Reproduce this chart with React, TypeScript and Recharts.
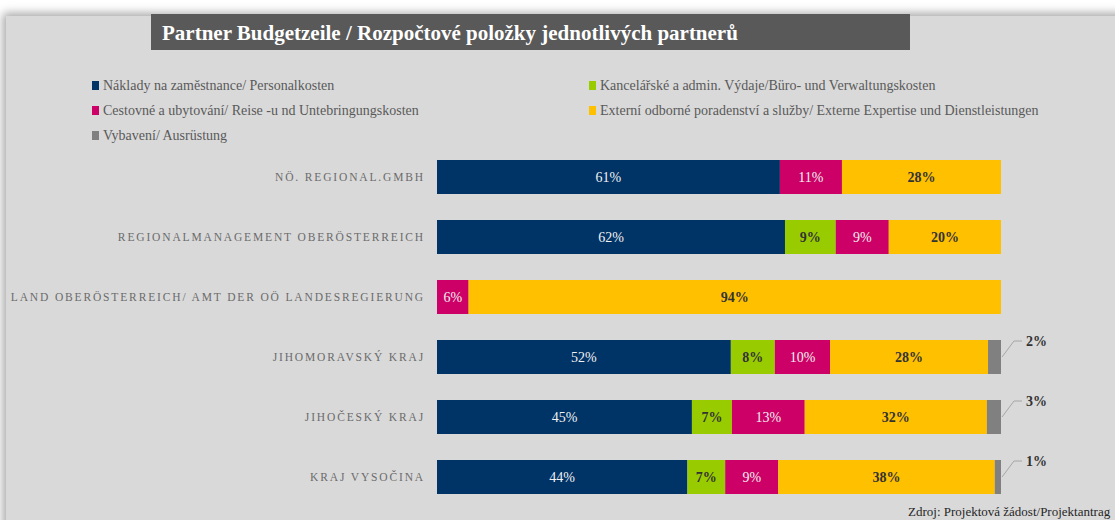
import { Bar, BarChart, LabelList, XAxis, YAxis } from "recharts";

// partneři / Partner
const partners = [
  "NÖ. REGIONAL.GMBH",
  "REGIONALMANAGEMENT OBERÖSTERREICH",
  "LAND OBERÖSTERREICH/ AMT DER OÖ LANDESREGIERUNG",
  "JIHOMORAVSKÝ KRAJ",
  "JIHOČESKÝ KRAJ",
  "KRAJ VYSOČINA",
];

// podíly v %
const personal = [60.8, 61.7, 0, 52.1, 45.2, 44.4];
const office = [0, 9.0, 0, 7.8, 7.1, 6.7];
const travel = [11.0, 9.4, 5.6, 9.8, 12.9, 9.4];
const external = [28.2, 19.9, 94.4, 28.0, 32.3, 38.4];
const equipment = [0, 0, 0, 2.3, 2.5, 1.1];

const seriesNames = [
  "Náklady na zaměstnance/ Personalkosten",
  "Kancelářské a admin. Výdaje/Büro- und Verwaltungskosten",
  "Cestovné a ubytování/ Reise -u nd Untebringungskosten",
  "Externí odborné poradenství a služby/ Externe Expertise und Dienstleistungen",
  "Vybavení/ Ausrüstung",
];

const COLORS = ["#003366", "#99cc00", "#cc0066", "#ffc000", "#808080"];
const KEYS = ["personal", "office", "travel", "external", "equipment"];
const LABEL_FILL = ["#f2f2f2", "#333333", "#f2f2f2", "#333333", "#333333"];

const data = partners.map((name, i) => ({
  name,
  personal: personal[i],
  office: office[i],
  travel: travel[i],
  external: external[i],
  equipment: equipment[i],
}));

const FONT = "'Liberation Serif', 'DejaVu Serif', serif";

const insideLabel = (fill: string, bold: boolean) => (props: any) => {
  const { x, y, width, height, value } = props;
  if (!value) return null;
  return (
    <text
      x={x + width / 2}
      y={y + height / 2}
      fill={fill}
      textAnchor="middle"
      dominantBaseline="central"
      fontFamily={FONT}
      fontSize={14}
      fontWeight={bold ? 700 : 400}
    >
      {Math.round(value)}%
    </text>
  );
};

// malé položky se popisují mimo pruh s vodicí čarou
const outsideLabel = (props: any) => {
  const { x, y, width, height, value } = props;
  if (!value) return null;
  const x0 = x + width + 1;
  const y0 = y + height / 2;
  const x1 = x0 + 12;
  const y1 = y0 - 16;
  return (
    <g>
      <polyline
        points={`${x0},${y0} ${x1},${y1} ${x1 + 8},${y1}`}
        fill="none"
        stroke="#a6a6a6"
        strokeWidth={1}
      />
      <text
        x={x1 + 12}
        y={y1}
        fill="#333333"
        dominantBaseline="central"
        fontFamily={FONT}
        fontSize={14}
        fontWeight={700}
      >
        {Math.round(value)}%
      </text>
    </g>
  );
};

const PartnerTick = (props: any) => {
  const { x, y, payload } = props;
  return (
    <text
      x={x}
      y={y}
      textAnchor="end"
      dominantBaseline="central"
      fill="#6b6b6b"
      fontFamily={FONT}
      fontSize={11.5}
      letterSpacing={1.85}
    >
      {payload.value}
    </text>
  );
};

function LegendBlock() {
  const cols = [
    [0, 2, 4],
    [1, 3],
  ];
  return (
    <div style={{ position: "absolute", left: 92, top: 73, display: "flex", fontFamily: FONT, fontSize: 14, color: "#595959" }}>
      {cols.map((col, ci) => (
        <div key={ci} style={{ width: ci === 0 ? 497 : 520 }}>
          {col.map((si) => (
            <div key={si} style={{ height: 25, display: "flex", alignItems: "center" }}>
              <span style={{ display: "inline-block", width: 7, height: 9, background: COLORS[si], marginRight: 4 }} />
              {seriesNames[si]}
            </div>
          ))}
        </div>
      ))}
    </div>
  );
}

export default function App() {
  return (
    <div style={{ position: "absolute", left: 0, top: 0, width: 1115, height: 520, background: "#ffffff", overflow: "hidden" }}>
      <div
        style={{
          position: "absolute",
          left: 6,
          top: 16,
          width: 1120,
          height: 520,
          background: "#d9d9d9",
          boxShadow: "0 0 9px 3px rgba(0,0,0,0.35)",
        }}
      />
      <div
        style={{
          position: "absolute",
          left: 151,
          top: 14,
          width: 759,
          height: 36,
          background: "#595959",
          color: "#ffffff",
          fontFamily: FONT,
          fontWeight: 700,
          fontSize: 21,
          lineHeight: "38px",
          paddingLeft: 11,
          boxSizing: "border-box",
          whiteSpace: "nowrap",
        }}
      >
        Partner Budgetzeile / Rozpočtové položky jednotlivých partnerů
      </div>
      <LegendBlock />
      <div style={{ position: "absolute", left: 0, top: 0 }}>
        <BarChart
          width={1115}
          height={520}
          data={data}
          layout="vertical"
          margin={{ top: 147, right: 114, bottom: 13, left: 0 }}
          barSize={34}
        >
          <XAxis type="number" domain={[0, 100]} hide />
          <YAxis
            type="category"
            dataKey="name"
            width={437}
            axisLine={false}
            tickLine={false}
            tickMargin={6}
            tick={<PartnerTick />}
            interval={0}
          />
          {KEYS.map((k, i) => (
            <Bar key={k} dataKey={k} stackId="a" fill={COLORS[i]} isAnimationActive={false}>
              <LabelList
                dataKey={k}
                content={i === 4 ? outsideLabel : insideLabel(LABEL_FILL[i], i === 1 || i === 3)}
              />
            </Bar>
          ))}
        </BarChart>
      </div>
      <div
        style={{
          position: "absolute",
          left: 908,
          top: 504,
          fontFamily: FONT,
          fontSize: 13,
          color: "#262626",
          whiteSpace: "nowrap",
        }}
      >
        Zdroj: Projektová žádost/Projektantrag
      </div>
    </div>
  );
}
